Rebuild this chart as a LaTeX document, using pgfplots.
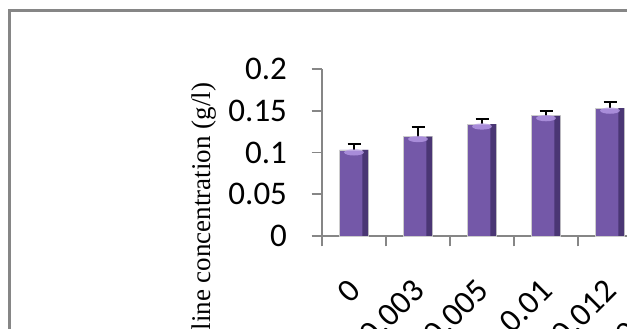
\documentclass[border=0pt]{standalone}
\usepackage{fontspec}
\setmainfont{Carlito}
\newfontfamily\timesf{Liberation Serif}
\usepackage{pgfplots}
\usepackage{pgfplotstable}
\pgfplotsset{compat=1.18}
\definecolor{axgray}{RGB}{134,134,134}
\definecolor{barM}{RGB}{116,88,168}
\definecolor{barR}{RGB}{74,54,116}
\definecolor{hl}{RGB}{186,158,234}
\pgfplotstableread{
x y err
0 0.103 0.007
1 0.119 0.011
2 0.134 0.006
3 0.144 0.006
4 0.153 0.007
}\datatable
\begin{document}
\begin{tikzpicture}[x=1pt,y=1pt]
\useasboundingbox (0,0) rectangle (627,329);
\clip (0,0) rectangle (627,329);
\fill[white] (0,0) rectangle (627,329);
\draw[axgray, line width=2.5pt] (9.3,-20) -- (9.3,318.3) -- (700,318.3);
\node[rotate=90, anchor=base, font=\timesf\fontsize{27}{30}\selectfont] at (210,103.5) {Proline concentration (g/l)};
\begin{axis}[
  at={(322pt,93pt)}, anchor=south west,
  x=64pt, y=835pt,
  xmin=-0.5, xmax=6.5, ymin=0, ymax=0.2,
  axis lines*=left,
  axis line style={axgray, line width=2pt},
  tick style={axgray, line width=1.6pt},
  tick align=outside,
  major tick length=10.5pt,
  bar width=29pt,
  xtick={-0.5,0.5,...,6.5},
  xticklabels={},
  extra x ticks={0,1,2,3,4,5},
  extra x tick labels={0,0.003,0.005,0.01,0.012,0.015},
  extra x tick style={major tick length=0pt,
    tick label style={xshift=3pt, yshift=-47pt, rotate=45, anchor=east}},
  ytick={0,0.05,0.1,0.15,0.2},
  yticklabels={0,0.05,0.1,0.15,0.2},
  yticklabel style={anchor=east, xshift=-21pt},
  tick label style={font=\fontsize{33}{36}\selectfont, text=black},
  /pgf/number format/assume math mode=true,
  clip=false,
]
\addplot[ybar, bar shift=0pt, draw=gray!40, line width=0.8pt, fill=barM,
  error bars/.cd, y dir=plus, y explicit,
  error bar style={black, line width=2pt},
  error mark options={black, rotate=90, mark size=6.5pt, line width=2pt}]
  table[x=x, y=y, y error=err] {\datatable};
\addplot[ybar, bar shift=11.2pt, bar width=5.6pt, draw=none, fill=barR]
  table[x=x, y=y] {\datatable};
\addplot[only marks, mark=*, mark size=5.2pt, draw=none,
  mark options={draw=none, draw opacity=0, fill=hl, fill opacity=0.75, xscale=1.9, yscale=0.6, yshift=-4pt}]
  table[x=x, y=y] {\datatable};
\end{axis}
\end{tikzpicture}
\end{document}
